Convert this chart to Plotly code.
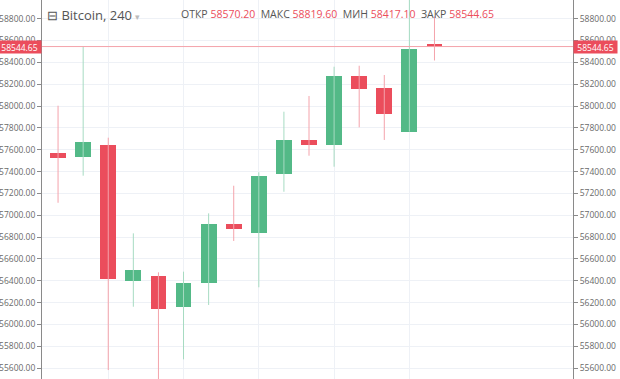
import plotly.graph_objects as go

# Data (4h Bitcoin candles)
idx = list(range(16))
opens  = [57572, 57533, 57643, 56400, 56440, 56162, 56382, 56917, 56840, 57377, 57689, 57640, 58275, 58162, 57765, 58570.20]
highs  = [58003, 58549, 57710, 56834, 56477, 56483, 57017, 57270, 57393, 57948, 58092, 58360, 58369, 58284, 59000, 58819.60]
lows   = [57114, 57362, 55582, 56162, 55480, 55680, 56178, 56764, 56340, 57215, 57545, 57444, 57805, 57689, 57765, 58417.10]
closes = [57521, 57670, 56413, 56498, 56141, 56382, 56917, 56871, 57362, 57689, 57640, 58275, 58156, 57927, 58522, 58544.65]
last_price = 58544.65
tick_vals = [55600, 55800, 56000, 56200, 56400, 56600, 56800, 57000, 57200, 57400, 57600, 57800, 58000, 58200, 58400, 58600, 58800]
tick_text = [f"{v:.2f}" for v in tick_vals]
grid_x = [2, 5, 8, 11, 14]

UP = "#53b987"
DOWN = "#eb4d5c"
UP_W = "#a6dbc2"
DOWN_W = "#f4a3ab"
TXT = "#555555"

fig = go.Figure()

# wicks
for up in (True, False):
    xs, ys = [], []
    for i, o, h, l, c in zip(idx, opens, highs, lows, closes):
        if (c >= o) == up:
            xs += [i, i, None]
            ys += [l, h, None]
    fig.add_trace(go.Scatter(x=xs, y=ys, mode="lines",
                             line=dict(color=UP_W if up else DOWN_W, width=1),
                             hoverinfo="skip", showlegend=False))

# bodies
for up in (True, False):
    bx, bb, bh = [], [], []
    for i, o, c in zip(idx, opens, closes):
        if (c >= o) == up:
            bx.append(i)
            bb.append(min(o, c))
            bh.append(max(abs(c - o), 20))
    fig.add_trace(go.Bar(x=bx, y=bh, base=bb, width=0.63,
                         marker=dict(color=UP if up else DOWN, line=dict(width=0)),
                         showlegend=False, hoverinfo="skip"))

# price line
fig.add_shape(type="line", xref="paper", x0=0, x1=1, yref="y", y0=last_price, y1=last_price,
              line=dict(color="#f4a3ab", width=1), layer="above")

yr = [55500, 58971]
axis_common = dict(range=yr, tickvals=tick_vals, ticktext=tick_text, zeroline=False,
                   showline=True, linecolor="#8a8a8a", linewidth=1, automargin=False,
                   ticks="outside", ticklen=4, tickcolor="#8a8a8a",
                   tickfont=dict(size=8.5, color="#6a6a6a"))
fig.update_layout(
    template="none",
    width=620, height=379,
    margin=dict(l=42, r=47, t=0, b=0, pad=0),
    paper_bgcolor="white", plot_bgcolor="white",
    bargap=0,
    font=dict(family="Open Sans, sans-serif", color=TXT, size=10),
    xaxis=dict(range=[-0.64, 20.52], showticklabels=False, tickvals=grid_x, automargin=False,
               showgrid=True, gridcolor="#eef1f6", gridwidth=1, zeroline=False,
               showline=False, ticks=""),
    yaxis=dict(side="left", showgrid=True, gridcolor="#eef1f6", gridwidth=1, **axis_common),
    yaxis2=dict(side="right", overlaying="y", showgrid=False, **axis_common),
)
# dummy trace to activate right axis
fig.add_trace(go.Scatter(x=[None], y=[None], yaxis="y2", showlegend=False, hoverinfo="skip"))

# last price labels on both axes
for xp, anchor in ((0, "right"), (1, "left")):
    fig.add_annotation(xref="paper", yref="y", x=xp, y=last_price, text=f"{last_price:.2f}",
                       showarrow=False, xanchor=anchor, yanchor="middle",
                       font=dict(size=8.5, color="white"), bgcolor=DOWN,
                       borderpad=1, width=41, height=10)

# header
fig.add_annotation(xref="paper", yref="paper", x=0, y=1, xshift=3, yshift=-4, xanchor="left", yanchor="top",
                   showarrow=False, text="⊟ Bitcoin, 240 <span style='color:#bbbbbb;font-size:9px'>▾</span>",
                   font=dict(size=13, color="#555555"))
parts = [("ОТКР", f"{opens[-1]:.2f}"), ("МАКС", f"{highs[-1]:.2f}"),
         ("МИН", f"{lows[-1]:.2f}"), ("ЗАКР", f"{closes[-1]:.2f}")]
header = "&nbsp;&nbsp;".join(f"<span style='color:#555555'>{k}</span> <span style='color:{DOWN}'>{v}</span>" for k, v in parts)
fig.add_annotation(xref="paper", yref="paper", x=0, y=1, xshift=137, yshift=-5, xanchor="left", yanchor="top",
                   showarrow=False, text=header, font=dict(size=10.5))

fig.write_html("out.html", config={"displayModeBar": False},
               post_script="document.body.style.margin='0';")
